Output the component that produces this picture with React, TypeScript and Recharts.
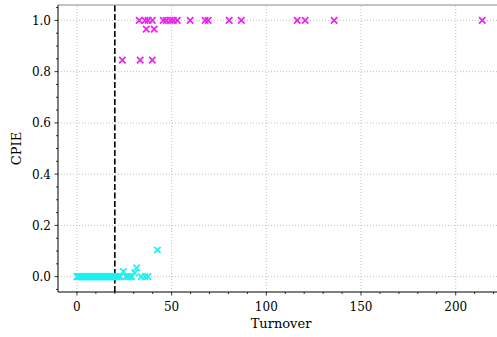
import React from 'react';
import { ScatterChart, Scatter, XAxis, YAxis, ReferenceLine } from 'recharts';

const cyanX = [0, 0.5, 1, 1.5, 2, 2.5, 3, 3.5, 4, 4.5, 5, 5.5, 6, 6.5, 7, 7.5, 8, 8.5, 9, 9.5, 10, 10.5, 11, 11.5, 12, 12.5, 13, 13.5, 14, 14.5, 15, 15.5, 16, 16.5, 17, 17.5, 18, 18.5, 19, 19.5, 20, 21, 22, 23, 26, 27, 28, 29, 24.5, 31.5, 30.5, 34, 36, 37.5, 42.5];
const cyanY = [0, 0, 0, 0, 0, 0, 0, 0, 0, 0, 0, 0, 0, 0, 0, 0, 0, 0, 0, 0, 0, 0, 0, 0, 0, 0, 0, 0, 0, 0, 0, 0, 0, 0, 0, 0, 0, 0, 0, 0, 0, 0, 0, 0, 0, 0, 0, 0, 0.02, 0.034, 0.015, 0, 0, 0, 0.104];

const magentaX = [32.9, 36, 37.6, 39.8, 45.6, 47.2, 49.3, 50.9, 53, 59.8, 67.7, 69.3, 80.4, 86.8, 116.3, 120.5, 135.8, 214, 36.6, 40.8, 24, 33.4, 39.8];
const magentaY = [1, 1, 1, 1, 1, 1, 1, 1, 1, 1, 1, 1, 1, 1, 1, 1, 1, 1, 0.966, 0.966, 0.845, 0.845, 0.845];

const xTicks = [0, 10, 20, 30, 40, 50, 60, 70, 80, 90, 100, 110, 120, 130, 140, 150, 160, 170, 180, 190, 200, 210, 220];
const xMajor = [0, 50, 100, 150, 200];
const yTicks = [-0.05, 0, 0.05, 0.1, 0.15, 0.2, 0.25, 0.3, 0.35, 0.4, 0.45, 0.5, 0.55, 0.6, 0.65, 0.7, 0.75, 0.8, 0.85, 0.9, 0.95, 1.0, 1.05];
const yMajor = [0, 0.2, 0.4, 0.6, 0.8, 1.0];
const thresholdX = 20;

const X_DOMAIN: [number, number] = [-10, 225.5];
const Y_DOMAIN: [number, number] = [-0.06, 1.06];

const cyanData = cyanX.map((x, i) => ({ x, y: cyanY[i] }));
const magentaData = magentaX.map((x, i) => ({ x, y: magentaY[i] }));

const FONT = '"DejaVu Serif", serif';
const textStyle = { fontFamily: FONT, fontSize: 12 };

const Cross = (color: string) => (props: any) => {
  const { cx, cy } = props;
  const r = 3.2;
  return (
    <path
      d={`M${cx - r},${cy - r}L${cx + r},${cy + r}M${cx - r},${cy + r}L${cx + r},${cy - r}`}
      stroke={color}
      strokeWidth={1.7}
      fill="none"
    />
  );
};

const isMajor = (v: number, list: number[]) => list.some((m) => Math.abs(m - v) < 1e-9);

const XTick = (props: any) => {
  const { x, y, payload } = props;
  const v = payload.value;
  const major = isMajor(v, xMajor);
  return (
    <g>
      <line x1={x} x2={x} y1={y} y2={y + (major ? 3.5 : 2)} stroke="#000" strokeWidth={0.8} />
      {major && (
        <text x={x} y={y + 19} textAnchor="middle" style={textStyle} fill="#000">
          {v}
        </text>
      )}
    </g>
  );
};

const YTick = (props: any) => {
  const { x, y, payload } = props;
  const v = payload.value;
  const major = isMajor(v, yMajor);
  return (
    <g>
      <line x1={x} x2={x - (major ? 3.5 : 2)} y1={y} y2={y} stroke="#000" strokeWidth={0.8} />
      {major && (
        <text x={x - 7} y={y + 4.5} textAnchor="end" style={textStyle} fill="#000">
          {v.toFixed(1)}
        </text>
      )}
    </g>
  );
};

export default function App() {
  return (
    <div style={{ position: 'absolute', left: 0, top: 0, width: 497, height: 337, overflow: 'hidden', background: '#fff' }}>
      <ScatterChart width={504} height={337} margin={{ top: 5, right: 0, bottom: 0, left: 0 }}>
        <XAxis
          type="number"
          dataKey="x"
          domain={X_DOMAIN}
          ticks={xTicks}
          interval={0}
          allowDataOverflow
          height={45}
          tickLine={false}
          tickSize={0}
          tickMargin={0}
          tick={<XTick />}
          axisLine={{ stroke: '#000', strokeWidth: 1 }}
          label={{ value: 'Turnover', position: 'insideBottom', offset: 9, style: { fontFamily: FONT, fontSize: 13 }, fill: '#000' }}
        />
        <YAxis
          type="number"
          dataKey="y"
          domain={Y_DOMAIN}
          ticks={yTicks}
          interval={0}
          allowDataOverflow
          width={58}
          tickLine={false}
          tickSize={0}
          tickMargin={0}
          tick={<YTick />}
          axisLine={{ stroke: '#000', strokeWidth: 1 }}
          label={{ value: 'CPIE', angle: -90, position: 'insideLeft', offset: 16, fill: '#000', style: { textAnchor: 'middle', fontFamily: FONT, fontSize: 13 } }}
        />
        {xMajor.map((v) => (
          <ReferenceLine key={'gx' + v} x={v} stroke="#b0b0b0" strokeWidth={0.8} strokeDasharray="1 2" />
        ))}
        {yMajor.map((v) => (
          <ReferenceLine key={'gy' + v} y={v} stroke="#b0b0b0" strokeWidth={0.8} strokeDasharray="1 2" />
        ))}
        <ReferenceLine y={Y_DOMAIN[1]} stroke="#888" strokeWidth={1} />
        <Scatter data={cyanData} fill="#00ffff" shape={Cross('#1ff0f0')} isAnimationActive={false} />
        <Scatter data={magentaData} fill="#ff00ff" shape={Cross('#f020f0')} isAnimationActive={false} />
        <ReferenceLine x={thresholdX} stroke="#000" strokeWidth={1.6} strokeDasharray="6 2.5" />
      </ScatterChart>
    </div>
  );
}
